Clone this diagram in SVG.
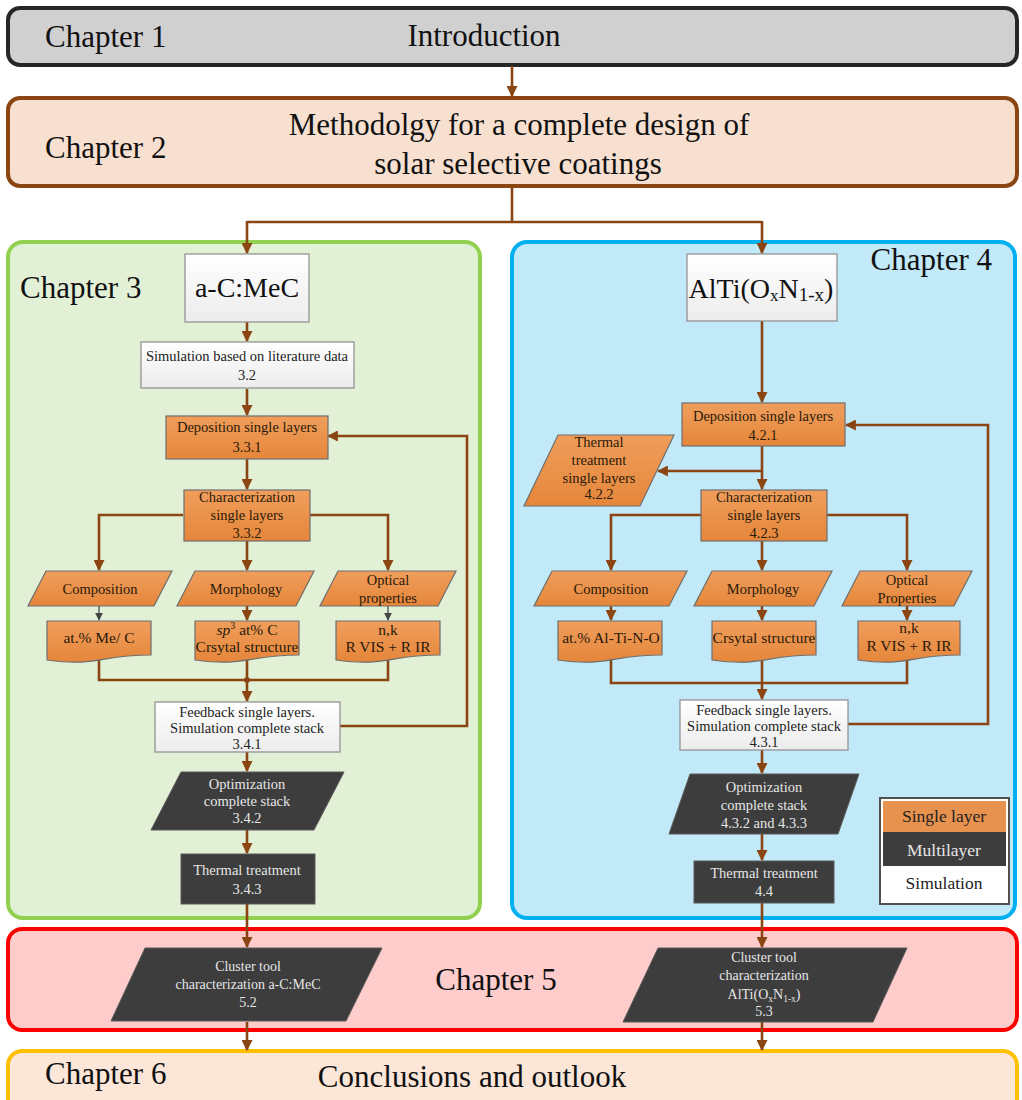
<svg xmlns="http://www.w3.org/2000/svg" width="1022" height="1100" viewBox="0 0 1022 1100">
<defs>
<linearGradient id="gOr" x1="0" y1="0" x2="0" y2="1"><stop offset="0" stop-color="#f09e5c"/><stop offset="1" stop-color="#e5863a"/></linearGradient>
<linearGradient id="gWh" x1="0" y1="0" x2="0" y2="1"><stop offset="0" stop-color="#ffffff"/><stop offset="1" stop-color="#ececec"/></linearGradient>
<marker id="ah" viewBox="0 0 10 10" refX="9" refY="5" markerWidth="11" markerHeight="11" markerUnits="userSpaceOnUse" orient="auto"><path d="M0,0 L10,5 L0,10 z" fill="#8b4513"/></marker>
<marker id="ahg" viewBox="0 0 10 10" refX="9" refY="5" markerWidth="8" markerHeight="8" markerUnits="userSpaceOnUse" orient="auto"><path d="M0,0 L10,5 L0,10 z" fill="#444"/></marker>
</defs>
<style>
text{font-family:"Liberation Serif","Times New Roman",serif;}
.ch{font-size:31px;fill:#111;}
.big{font-size:28px;fill:#111;text-anchor:middle;}
.t{font-size:14.5px;fill:#222;text-anchor:middle;}
.to{font-size:14.5px;fill:#2a1a0a;text-anchor:middle;}
.td{font-size:15.5px;fill:#2a1a0a;text-anchor:middle;}
.tk{font-size:14.5px;fill:#e6e6e6;text-anchor:middle;}
.tk5{font-size:14px;fill:#e6e6e6;text-anchor:middle;}
.wh{fill:url(#gWh);stroke:#8c8c8c;stroke-width:1.2;}
.or{fill:url(#gOr);stroke:#6e6e6e;stroke-width:1.2;}
.dk{fill:#3d3d3d;stroke:#5a5a5a;stroke-width:1;}
.c{fill:none;stroke:#8b4513;stroke-width:2.6;}
.ca{fill:none;stroke:#8b4513;stroke-width:2.6;marker-end:url(#ah);}
.cg{fill:none;stroke:#555;stroke-width:1.4;marker-end:url(#ahg);}
</style>

<g id="chapter1">
<rect x="8" y="8" width="1009" height="57" rx="12" fill="#d0d0d0" stroke="#262626" stroke-width="4"/>
<text class="ch" x="45" y="47">Chapter 1</text>
<text class="ch" x="484" y="46" text-anchor="middle">Introduction</text>
</g>
<g id="chapter2">
<rect x="8" y="98" width="1009" height="88" rx="12" fill="#f8e0d0" stroke="#8b4513" stroke-width="4"/>
<text class="ch" x="45" y="158">Chapter 2</text>
<text class="ch" x="519" y="135" text-anchor="middle">Methodolgy for a complete design of</text>
<text class="ch" x="518" y="174" text-anchor="middle">solar selective coatings</text>
</g>
<g id="chapter3">
<rect x="8" y="242" width="472" height="676" rx="15" fill="#e2f0d6" stroke="#92d050" stroke-width="4"/>
<text class="ch" x="20" y="298">Chapter 3</text>
</g>
<g id="chapter4">
<rect x="512" y="242" width="503" height="676" rx="15" fill="#c2e9f8" stroke="#00b0f0" stroke-width="4"/>
<text class="ch" x="992" y="270" text-anchor="end">Chapter 4</text>
</g>
<g id="chapter5">
<rect x="8" y="929" width="1009" height="101" rx="14" fill="#ffcccc" stroke="#ff0000" stroke-width="4"/>
<text class="ch" x="496" y="990" text-anchor="middle">Chapter 5</text>
</g>
<g id="chapter6">
<rect x="8" y="1051" width="1009" height="70" rx="14" fill="#fbe6d8" stroke="#ffc000" stroke-width="4"/>
<text class="ch" x="45" y="1084">Chapter 6</text>
<text class="ch" x="472" y="1087" text-anchor="middle">Conclusions and outlook</text>
</g>

<g id="connectors">
<path class="ca" d="M512,66 V96"/>
<path class="c" d="M512,187 V222 M247,222 H762"/>
<path class="ca" d="M247,221 V253"/>
<path class="ca" d="M762,221 V253"/>
<path class="ca" d="M247,322 V341"/>
<path class="ca" d="M247,389 V415"/>
<path class="ca" d="M247,459 V489"/>
<path class="ca" d="M183,515 H99 V570"/>
<path class="ca" d="M247,541 V570"/>
<path class="ca" d="M309,515 H388 V570"/>
<path class="cg" d="M99,606 V620"/>
<path class="ca" d="M247,606 V620"/>
<path class="cg" d="M388,606 V620"/>
<path class="c" d="M99,660 V680 H388 V655 M247,659 V680"/>
<circle cx="247" cy="680" r="3" fill="#8b4513"/>
<path class="ca" d="M247,680 V701"/>
<path class="ca" d="M340,726 H467 V436 H328"/>
<path class="ca" d="M247,752 V771"/>
<path class="ca" d="M247,830 V853"/>
<path class="ca" d="M247,904 V947"/>
<path class="ca" d="M247,1022 V1050"/>
<path class="ca" d="M762,321 V402"/>
<path class="ca" d="M762,446 V489"/>
<path class="ca" d="M762,471 H658"/>
<path class="ca" d="M701,515 H611 V570"/>
<path class="ca" d="M762,541 V570"/>
<path class="ca" d="M827,515 H907 V570"/>
<path class="ca" d="M611,606 V620"/>
<path class="ca" d="M762,606 V620"/>
<path class="ca" d="M907,606 V620"/>
<path class="c" d="M611,660 V683 H907 V655 M762,658 V683"/>
<path class="ca" d="M762,683 V699"/>
<path class="ca" d="M848,724 H988 V425 H846"/>
<path class="ca" d="M762,750 V773"/>
<path class="ca" d="M762,834 V860"/>
<path class="ca" d="M762,903 V947"/>
<path class="ca" d="M762,1022 V1050"/>
</g>

<g id="acmec"><rect class="wh" x="185" y="254" width="124" height="68"/><text class="big" x="247" y="297">a-C:MeC</text></g>
<g id="sim32"><rect class="wh" x="141" y="342" width="213" height="46"/><text class="t" x="247" y="361">Simulation based on literature data</text><text class="t" x="247" y="380">3.2</text></g>
<g id="dep331"><rect class="or" x="166" y="416" width="162" height="43"/><text class="to" x="247" y="432">Deposition single layers</text><text class="to" x="247" y="452">3.3.1</text></g>
<g id="char332"><rect class="or" x="184" y="490" width="126" height="51"/><text class="to" x="247" y="502">Characterization</text><text class="to" x="247" y="520">single layers</text><text class="to" x="247" y="538">3.3.2</text></g>
<g id="comp3"><polygon class="or" points="46,571 172,571 154,606 28,606"/><text class="to" x="100" y="594">Composition</text></g>
<g id="morph3"><polygon class="or" points="195,571 314,571 296,606 177,606"/><text class="to" x="246" y="594">Morphology</text></g>
<g id="opt3"><polygon class="or" points="338,571 456,571 438,606 320,606"/><text class="to" x="388" y="585">Optical</text><text class="to" x="388" y="603">properties</text></g>
<g id="doc3a"><path class="or" d="M47,621 H151 V655 C99,655 99,667 47,660 Z"/><text class="td" x="99" y="643">at.% Me/ C</text></g>
<g id="doc3b"><path class="or" d="M195,621 H299 V655 C247,655 247,667 195,660 Z"/><text class="td" x="247" y="635"><tspan font-style="italic">sp</tspan><tspan font-size="10" dy="-6">3</tspan><tspan dy="6"> at% C</tspan></text><text class="td" x="247" y="652">Crsytal structure</text></g>
<g id="doc3c"><path class="or" d="M336,621 H440 V655 C388,655 388,667 336,660 Z"/><text class="td" x="388" y="635">n,k</text><text class="td" x="388" y="652">R VIS + R IR</text></g>
<g id="fb341"><rect class="wh" x="155" y="702" width="185" height="50"/><text class="t" x="247" y="717">Feedback single layers.</text><text class="t" x="247" y="733">Simulation complete stack</text><text class="t" x="247" y="749">3.4.1</text></g>
<g id="opt342"><polygon class="dk" points="181,772 344,772 314,830 151,830"/><text class="tk" x="247" y="789">Optimization</text><text class="tk" x="247" y="806">complete stack</text><text class="tk" x="247" y="823">3.4.2</text></g>
<g id="tt343"><rect class="dk" x="181" y="854" width="134" height="50"/><text class="tk" x="247" y="875">Thermal treatment</text><text class="tk" x="247" y="894">3.4.3</text></g>

<g id="alti"><rect class="wh" x="687" y="254" width="150" height="67"/><text class="big" x="761" y="298">AlTi(O<tspan font-size="17" dy="3">x</tspan><tspan dy="-3">N</tspan><tspan font-size="19" dy="3">1-x</tspan><tspan dy="-3">)</tspan></text></g>
<g id="dep421"><rect class="or" x="682" y="403" width="163" height="43"/><text class="to" x="763" y="421">Deposition single layers</text><text class="to" x="763" y="440">4.2.1</text></g>
<g id="tt422"><polygon class="or" points="558,435 674,435 640,506 524,506"/><text class="to" x="599" y="447">Thermal</text><text class="to" x="599" y="465">treatment</text><text class="to" x="599" y="483">single layers</text><text class="to" x="599" y="499">4.2.2</text></g>
<g id="char423"><rect class="or" x="701" y="490" width="126" height="51"/><text class="to" x="764" y="502">Characterization</text><text class="to" x="764" y="520">single layers</text><text class="to" x="764" y="538">4.2.3</text></g>
<g id="comp4"><polygon class="or" points="552,571 687,571 669,606 534,606"/><text class="to" x="611" y="594">Composition</text></g>
<g id="morph4"><polygon class="or" points="712,571 832,571 814,606 694,606"/><text class="to" x="763" y="594">Morphology</text></g>
<g id="opt4"><polygon class="or" points="860,571 972,571 954,606 842,606"/><text class="to" x="907" y="585">Optical</text><text class="to" x="907" y="603">Properties</text></g>
<g id="doc4a"><path class="or" d="M558,621 H662 V655 C610,655 610,667 558,660 Z"/><text class="td" x="611" y="643">at.% Al-Ti-N-O</text></g>
<g id="doc4b"><path class="or" d="M712,621 H816 V655 C764,655 764,667 712,660 Z"/><text class="td" x="764" y="643">Crsytal structure</text></g>
<g id="doc4c"><path class="or" d="M858,621 H960 V655 C909,655 909,667 858,660 Z"/><text class="td" x="909" y="633">n,k</text><text class="td" x="909" y="651">R VIS + R IR</text></g>
<g id="fb431"><rect class="wh" x="680" y="700" width="168" height="50"/><text class="t" x="764" y="715">Feedback single layers.</text><text class="t" x="764" y="731">Simulation complete stack</text><text class="t" x="764" y="747">4.3.1</text></g>
<g id="opt432"><polygon class="dk" points="690,774 859,774 838,834 669,834"/><text class="tk" x="764" y="792">Optimization</text><text class="tk" x="764" y="810">complete stack</text><text class="tk" x="764" y="828">4.3.2 and 4.3.3</text></g>
<g id="tt44"><rect class="dk" x="694" y="861" width="140" height="42"/><text class="tk" x="764" y="878">Thermal treatment</text><text class="tk" x="764" y="896">4.4</text></g>

<g id="legend">
<rect x="880" y="798" width="129" height="106" fill="#fff" stroke="#505050" stroke-width="2"/>
<rect x="883" y="801" width="123" height="31" fill="#e8924f"/>
<rect x="883" y="832" width="123" height="34" fill="#3d3d3d"/>
<rect x="883" y="866" width="123" height="35" fill="#ffffff"/>
<text x="944" y="822" font-size="17.5" text-anchor="middle" fill="#222">Single layer</text>
<text x="944" y="856" font-size="17.5" text-anchor="middle" fill="#e6e6e6">Multilayer</text>
<text x="944" y="889" font-size="17.5" text-anchor="middle" fill="#222">Simulation</text>
</g>

<g id="ct52"><polygon class="dk" points="145,948 382,948 346,1021 111,1021"/><text class="tk5" x="248" y="971">Cluster tool</text><text class="tk5" x="248" y="989">characterization a-C:MeC</text><text class="tk5" x="248" y="1007">5.2</text></g>
<g id="ct53"><polygon class="dk" points="658,948 907,948 873,1022 623,1022"/><text class="tk5" x="764" y="962">Cluster tool</text><text class="tk5" x="764" y="980">characterization</text><text class="tk5" x="764" y="999">AlTi(O<tspan font-size="9.5" dy="3">x</tspan><tspan dy="-3">N</tspan><tspan font-size="9.5" dy="3">1-x</tspan><tspan dy="-3">)</tspan></text><text class="tk5" x="764" y="1016">5.3</text></g>
</svg>
